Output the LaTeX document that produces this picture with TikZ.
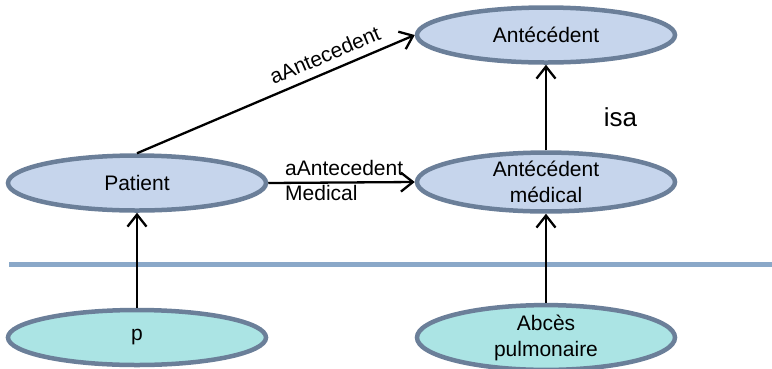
\documentclass[tikz,border=0pt]{standalone}
\usepackage{fontspec}
\setmainfont{Liberation Sans}
\usetikzlibrary{shapes.geometric,arrows.meta}
\definecolor{topfill}{HTML}{C6D5EC}
\definecolor{botfill}{HTML}{ABE4E4}
\definecolor{rim}{HTML}{6B7F99}
\definecolor{sepcol}{HTML}{8AA8C8}
\tikzset{
  ell/.style={ellipse, draw=rim, line width=4.5pt, minimum width=258pt, minimum height=55pt, inner sep=0pt, align=center, font=\fontsize{21}{26}\selectfont},
  classnode/.style={ell, fill=topfill},
  instnode/.style={ell, fill=botfill},
  rel/.style={draw=black, line width=2.3pt, -{Straight Barb[length=12pt,width=19pt,line width=2.3pt]}},
  lbl/.style={font=\fontsize{21}{25}\selectfont, inner sep=0pt},
  sepline/.style={draw=sepcol, line width=4.5pt}
}
\begin{document}
\begin{tikzpicture}[x=1pt,y=-1pt]
\useasboundingbox (0,0) rectangle (772,368);
\node[classnode] (ante) at (546,35) {Antécédent};
\node[classnode] (patient) at (137,183) {Patient};
\node[classnode] (antemed) at (546,182) {Antécédent\\médical};
\coordinate (sepL) at (9,264.5);
\coordinate (sepR) at (772,264.5);
\draw[sepline] (sepL) -- (sepR);
\node[instnode] (p) at (137,337.5) {p};
\node[instnode] (abces) at (546,337.5) {Abcès\\pulmonaire};
\draw[rel] (patient.north) -- (ante.west) node[lbl, pos=0.7, above=8pt, sloped] {aAntecedent};
\draw[rel] (patient.east) -- (antemed.west);
\node[lbl, anchor=west, align=left] (medlbl) at (285,180) {aAntecedent\\Medical};
\draw[rel] (antemed.north) -- (ante.south);
\node[inner sep=0pt, anchor=base, font=\fontsize{26}{30}\selectfont] (isa) at (620.5,126) {isa};
\draw[rel] (p.north) -- (patient.south);
\draw[rel] (abces.north) -- (antemed.south);
\end{tikzpicture}
\end{document}
